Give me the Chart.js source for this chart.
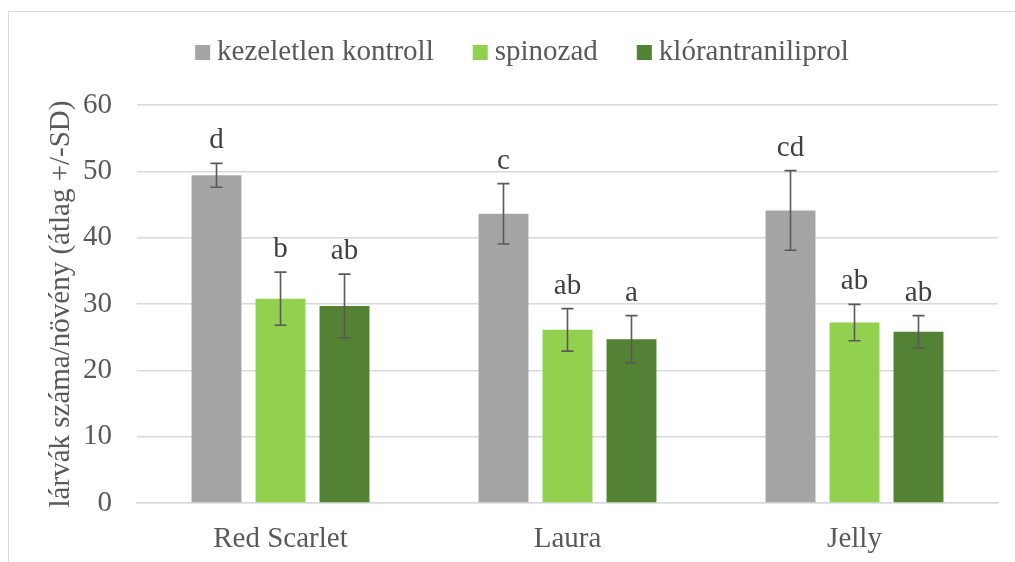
<!DOCTYPE html>
<html>
<head>
<meta charset="utf-8">
<script src="https://cdn.jsdelivr.net/npm/chart.js@4.4.1/dist/chart.umd.min.js"></script>
<style>
  html, body { margin: 0; padding: 0; background: #fff; overflow: hidden; }
  #wrap { width: 1015px; height: 562px; position: relative; }
</style>
</head>
<body>
<div id="wrap"><canvas id="grafica"></canvas></div>
<script>
// Datos
const fajtak = ['Red Scarlet', 'Laura', 'Jelly'];
const kontroll = [49.4, 43.6, 44.1];
const spinozad = [30.8, 26.1, 27.2];
const klorant = [29.7, 24.7, 25.8];
const kontrollSD = [1.8, 4.55, 6.0];
const spinozadSD = [4.0, 3.2, 2.75];
const klorantSD = [4.8, 3.55, 2.45];
const kontrollBetu = ['d', 'c', 'cd'];
const spinozadBetu = ['b', 'ab', 'ab'];
const klorantBetu = ['ab', 'a', 'ab'];
const yTicks = [0, 10, 20, 30, 40, 50, 60];

const serif = '"Liberation Serif", "Times New Roman", serif';
const szoveg = '#595959';
const betuMeret = 29;

// Hibasávok + betűk rajzolása
const hibasavPlugin = {
    id: 'hibasav',
    afterDatasetsDraw(chart) {
        const ctx = chart.ctx;
        const y = chart.scales.y;
        ctx.save();
        chart.data.datasets.forEach((ds, i) => {
            const meta = chart.getDatasetMeta(i);
            meta.data.forEach((bar, j) => {
                const m = ds.data[j];
                const sd = ds.sd[j];
                const top = y.getPixelForValue(m + sd);
                const bot = y.getPixelForValue(m - sd);
                ctx.strokeStyle = '#595959';
                ctx.lineWidth = 1.6;
                ctx.beginPath();
                ctx.moveTo(bar.x, top); ctx.lineTo(bar.x, bot);
                ctx.moveTo(bar.x - 6, top); ctx.lineTo(bar.x + 6, top);
                ctx.moveTo(bar.x - 6, bot); ctx.lineTo(bar.x + 6, bot);
                ctx.stroke();
                ctx.fillStyle = '#404040';
                ctx.font = betuMeret + 'px ' + serif;
                ctx.textAlign = 'center';
                ctx.textBaseline = 'alphabetic';
                ctx.fillText(ds.betu[j], bar.x, top - 15);
            });
        });
        ctx.restore();
    }
};

// Saját jelmagyarázat (kis rés a négyzet és a szöveg között)
const jelmagyarazatPlugin = {
    id: 'jelmagyarazat',
    afterDraw(chart) {
        const ctx = chart.ctx;
        const doboz = 15, res = 7, kozt = 39;
        ctx.save();
        ctx.font = betuMeret + 'px ' + serif;
        const szelessegek = chart.data.datasets.map(ds => ctx.measureText(ds.label).width);
        const teljes = szelessegek.reduce((a, w) => a + doboz + res + w, 0) + kozt * (szelessegek.length - 1);
        let x = 522 - teljes / 2;
        const alap = 60;
        chart.data.datasets.forEach((ds, i) => {
            ctx.fillStyle = ds.backgroundColor;
            ctx.fillRect(x, alap - doboz, doboz, doboz);
            x += doboz + res;
            ctx.fillStyle = szoveg;
            ctx.textAlign = 'left';
            ctx.textBaseline = 'alphabetic';
            ctx.fillText(ds.label, x, alap);
            x += szelessegek[i] + kozt;
        });
        ctx.restore();
    }
};

const keretPlugin = {
    id: 'keret',
    beforeDraw(chart) {
        const ctx = chart.ctx;
        ctx.save();
        ctx.fillStyle = '#fff';
        ctx.fillRect(0, 0, chart.width, chart.height);
        ctx.strokeStyle = '#d9d9d9';
        ctx.lineWidth = 1;
        ctx.strokeRect(8.5, 11.5, chart.width + 20, chart.height + 20);
        ctx.restore();
    }
};

const ctx = document.getElementById('grafica').getContext('2d');
const grafikon = new Chart(ctx, {
    type: 'bar',
    data: {
        labels: fajtak,
        datasets: [
            { label: 'kezeletlen kontroll', data: kontroll, sd: kontrollSD, betu: kontrollBetu, backgroundColor: '#A5A5A5' },
            { label: 'spinozad', data: spinozad, sd: spinozadSD, betu: spinozadBetu, backgroundColor: '#92D050' },
            { label: 'klórantraniliprol', data: klorant, sd: klorantSD, betu: klorantBetu, backgroundColor: '#548235' }
        ]
    },
    options: {
        responsive: true,
        maintainAspectRatio: false,
        animation: false,
        categoryPercentage: 0.669,
        barPercentage: 0.78,
        layout: { padding: { left: 44, right: 17, top: 105, bottom: 0 } },
        plugins: {
            legend: { display: false },
            tooltip: { enabled: false }
        },
        scales: {
            x: {
                grid: { display: false },
                border: { color: '#d9d9d9', width: 1.5 },
                ticks: { color: szoveg, font: { family: serif, size: betuMeret }, padding: 11 },
                afterFit(scale) { scale.height = 59; }
            },
            y: {
                min: 0,
                max: 60,
                afterBuildTicks(scale) { scale.ticks = yTicks.map(v => ({ value: v })); },
                grid: { color: '#d9d9d9', lineWidth: 1.5, drawTicks: false },
                border: { display: false },
                ticks: { color: szoveg, font: { family: serif, size: betuMeret }, padding: 25 },
                title: {
                    display: true,
                    text: 'lárvák száma/növény (átlag +/-SD)',
                    color: szoveg,
                    font: { family: serif, size: betuMeret },
                    padding: 0
                },
                afterFit(scale) { scale.width = 93; }
            }
        }
    },
    plugins: [keretPlugin, hibasavPlugin, jelmagyarazatPlugin]
});
</script>
</body>
</html>
